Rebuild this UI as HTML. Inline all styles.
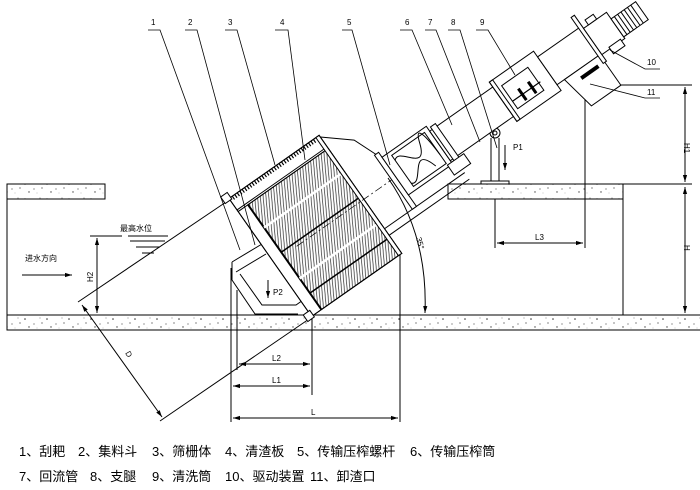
<!DOCTYPE html>
<html><head><meta charset="utf-8"><style>
html,body{margin:0;padding:0;background:#fff;}
svg{display:block;}
text{font-family:"Liberation Sans","Noto Sans CJK SC",sans-serif;fill:#000;}
</style></head><body>
<svg width="700" height="490" viewBox="0 0 700 490" xmlns="http://www.w3.org/2000/svg">
<defs>
<pattern id="conc" width="22" height="15" patternUnits="userSpaceOnUse">
<circle cx="3" cy="4" r="0.8" fill="#333"/><circle cx="12" cy="9" r="0.6" fill="#555"/><circle cx="18" cy="3" r="0.5" fill="#666"/><circle cx="7" cy="12" r="0.7" fill="#444"/><circle cx="15" cy="13" r="0.4" fill="#777"/><circle cx="20" cy="8" r="0.6" fill="#333"/>
</pattern>
<pattern id="hatch" width="2.8" height="10" patternUnits="userSpaceOnUse" patternTransform="rotate(30)">
<line x1="0.6" y1="0" x2="0.6" y2="10" stroke="#333" stroke-width="0.75"/>
</pattern>
<marker id="ar" viewBox="0 0 10 10" refX="10" refY="5" markerWidth="7" markerHeight="7" orient="auto-start-reverse"><path d="M0,2 L10,5 L0,8 z" fill="#000"/></marker>
</defs>
<g stroke="#000" stroke-width="1" fill="none">
<rect x="7" y="184" width="98" height="15" fill="url(#conc)"/>
<rect x="448" y="184" width="175" height="15" fill="url(#conc)"/>
<rect x="7" y="315" width="700" height="15" fill="url(#conc)"/>
<line x1="7" y1="184" x2="7" y2="330"/>
<line x1="623" y1="199" x2="623" y2="315"/>
<line x1="623" y1="184" x2="692" y2="184"/>
<line x1="590" y1="85" x2="692" y2="85"/>
<line x1="685" y1="87" x2="685" y2="182" marker-start="url(#ar)" marker-end="url(#ar)"/>
<line x1="685" y1="187" x2="685" y2="313" marker-start="url(#ar)" marker-end="url(#ar)"/>
<line x1="495" y1="199" x2="495" y2="248"/>
<line x1="585" y1="88" x2="585" y2="248"/>
<line x1="497" y1="243" x2="583" y2="243" marker-start="url(#ar)" marker-end="url(#ar)"/>
<line x1="491" y1="138" x2="491" y2="182"/>
<line x1="499" y1="138" x2="499" y2="182"/>
<rect x="481" y="181" width="28" height="3" fill="#fff"/>
<circle cx="495" cy="133" r="5" fill="#fff"/>
<circle cx="495" cy="133" r="2"/>
<line x1="505" y1="145" x2="505" y2="170" marker-end="url(#ar)"/>
<line x1="231" y1="268" x2="231" y2="422"/>
<line x1="237" y1="290" x2="237" y2="370"/>
<line x1="312" y1="318" x2="312" y2="395"/>
<line x1="400" y1="255" x2="400" y2="422"/>
<line x1="239" y1="364" x2="310" y2="364" marker-start="url(#ar)" marker-end="url(#ar)"/>
<line x1="233" y1="386" x2="310" y2="386" marker-start="url(#ar)" marker-end="url(#ar)"/>
<line x1="233" y1="418" x2="398" y2="418" marker-start="url(#ar)" marker-end="url(#ar)"/>
<line x1="78" y1="302" x2="232" y2="198"/>
<line x1="160" y1="421" x2="312" y2="317"/>
<line x1="82" y1="305" x2="162" y2="417" marker-start="url(#ar)" marker-end="url(#ar)"/>
<line x1="90" y1="236" x2="122" y2="236"/>
<line x1="128" y1="236" x2="168" y2="236"/>
<line x1="130" y1="241" x2="165" y2="241"/>
<line x1="136" y1="247" x2="160" y2="247"/>
<line x1="142" y1="253" x2="154" y2="253"/>
<line x1="97" y1="238" x2="97" y2="313" marker-start="url(#ar)" marker-end="url(#ar)"/>
<line x1="22" y1="275" x2="72" y2="275" marker-end="url(#ar)"/>
<path d="M388,178 Q428,235 425,313" marker-end="url(#ar)"/>
<polyline points="232,262 232,280 255,314 298,314"/>
<polyline points="240,274 262,305 296,305 306,298"/>
<line x1="232" y1="262" x2="262" y2="244"/>
<line x1="236" y1="272" x2="266" y2="254"/>
<line x1="268" y1="280" x2="268" y2="298" marker-end="url(#ar)"/>
<g transform="translate(355,225) rotate(-35)">
<rect x="-88" y="-94" width="110" height="144" fill="#fff"/>
<rect x="-76" y="-78" width="98" height="128" fill="url(#hatch)"/>
<rect x="-88" y="-94" width="110" height="144"/>
<line x1="-88" y1="-80" x2="22" y2="-80"/>
<line x1="-88" y1="-78" x2="22" y2="-78"/>
<path d="M-84,-94 v4 M-81,-94 v4 M-78,-94 v4 M-75,-94 v4 M-72,-94 v4 M-69,-94 v4 M-66,-94 v4 M-63,-94 v4 M-60,-94 v4 M-57,-94 v4 M-54,-94 v4 M-51,-94 v4 M-48,-94 v4 M-45,-94 v4 M-42,-94 v4 M-39,-94 v4 M-36,-94 v4 M-33,-94 v4 M-30,-94 v4 M-27,-94 v4 M-24,-94 v4 M-21,-94 v4 M-18,-94 v4 M-15,-94 v4 M-12,-94 v4 M-9,-94 v4 M-6,-94 v4 M-3,-94 v4 M0,-94 v4 M3,-94 v4 M6,-94 v4 M9,-94 v4 M12,-94 v4 M15,-94 v4" stroke-width="1.2"/>
<rect x="-94" y="-100" width="8" height="8" fill="#fff"/>
<rect x="-94" y="44" width="8" height="8" fill="#fff"/>
<line x1="-76" y1="-78" x2="-76" y2="50" stroke-width="2"/>
<line x1="-76" y1="-50" x2="22" y2="-50" stroke-width="2.5" stroke="#fff"/>
<line x1="-76" y1="-20" x2="22" y2="-20" stroke-width="1.5"/>
<line x1="-76" y1="12" x2="22" y2="12" stroke-width="2.5" stroke="#fff"/>
<line x1="-76" y1="30" x2="22" y2="30" stroke-width="1.5"/>
<rect x="18" y="-94" width="4" height="144" fill="#fff"/>
<polyline points="22,-92 48,-70 58,-45"/>
<line x1="22" y1="20" x2="120" y2="20"/>
<line x1="22" y1="28" x2="120" y2="28"/>
<line x1="-60" y1="-16" x2="330" y2="-16" stroke-dasharray="8,3,2,3" stroke-width="0.7"/>
<rect x="56" y="-46" width="5" height="66" fill="#fff"/>
<rect x="61" y="-40" width="54" height="46" fill="#fff"/>
<rect x="70" y="-36" width="40" height="38"/>
<path d="M70,-30 C80,-40 90,0 100,-30 S110,0 110,-10"/>
<path d="M70,-2 C80,8 90,-36 100,-2"/>
<rect x="115" y="-34" width="78" height="36" fill="#fff"/>
<rect x="118" y="-37" width="6" height="42" fill="#fff"/>
<rect x="110" y="4" width="20" height="12" fill="#fff"/>
<rect x="192" y="-40" width="54" height="48" fill="#fff"/>
<rect x="192" y="-40" width="4" height="48"/>
<rect x="200" y="-30" width="32" height="28"/>
<line x1="212" y1="-18" x2="212" y2="-4" stroke-width="3"/>
<line x1="224" y1="-18" x2="224" y2="-4" stroke-width="3"/>
<line x1="200" y1="-11" x2="234" y2="-11" stroke-width="1.2"/>
<rect x="246" y="-33" width="52" height="34" fill="#fff"/>
<polygon points="255,1 298,1 298,38 262,38" fill="#fff"/>
<rect x="270" y="8" width="20" height="3" fill="#000"/>
<rect x="296" y="-46" width="4" height="56" fill="#fff"/>
<rect x="300" y="-30" width="28" height="32" fill="#fff"/>
<rect x="310" y="0" width="14" height="8" fill="#fff"/>
<rect x="328" y="-22" width="30" height="22" fill="#fff"/>
<path d="M332,-22 v22 M336,-22 v22 M340,-22 v22 M344,-22 v22 M348,-22 v22 M352,-22 v22"/>
<rect x="306" y="-36" width="10" height="6" fill="#fff"/>
</g>
<g stroke-width="0.8">
<polyline points="148,30 160,30 240,250"/>
<polyline points="185,30 197,30 255,245"/>
<polyline points="225,30 237,30 275,165"/>
<polyline points="275,30 288,30 305,160"/>
<polyline points="342,30 352,30 390,165"/>
<polyline points="400,30 412,30 452,125"/>
<polyline points="425,30 436,30 480,142"/>
<polyline points="448,30 460,30 497,148"/>
<polyline points="476,30 488,30 515,75"/>
<polyline points="660,69 645,69 610,50"/>
<polyline points="660,98 645,98 590,84"/>
</g>
</g>
<g font-size="8">
<text x="151" y="25">1</text><text x="188" y="25">2</text><text x="228" y="25">3</text><text x="280" y="25">4</text><text x="347" y="25">5</text><text x="405" y="25">6</text><text x="428" y="25">7</text><text x="451" y="25">8</text><text x="480" y="25">9</text>
<text x="647" y="65">10</text><text x="647" y="95">11</text>
<text x="513" y="150">P1</text>
<text x="535" y="240">L3</text>
<text x="272" y="361">L2</text>
<text x="272" y="383">L1</text>
<text x="311" y="415">L</text>
<text x="273" y="295">P2</text>
<text x="120" y="231">最高水位</text>
<text x="25" y="261">进水方向</text>
<text transform="translate(684,143) rotate(90)">H1</text>
<text transform="translate(684,245) rotate(90)">H</text>
<text transform="translate(93,282) rotate(-90)">H2</text>
<text transform="translate(125,353) rotate(60)">D</text>
<text transform="translate(416,238) rotate(75)">35°</text>
</g>
<g font-size="13">
<text x="19" y="456">1、刮耙</text>
<text x="78" y="456">2、集料斗</text>
<text x="152" y="456">3、筛栅体</text>
<text x="225" y="456">4、清渣板</text>
<text x="297" y="456">5、传输压榨螺杆</text>
<text x="410" y="456">6、传输压榨筒</text>
<text x="19" y="481">7、回流管</text>
<text x="90" y="481">8、支腿</text>
<text x="152" y="481">9、清洗筒</text>
<text x="225" y="481">10、驱动装置</text>
<text x="310" y="481">11、卸渣口</text>
</g>
</svg>
</body></html>
